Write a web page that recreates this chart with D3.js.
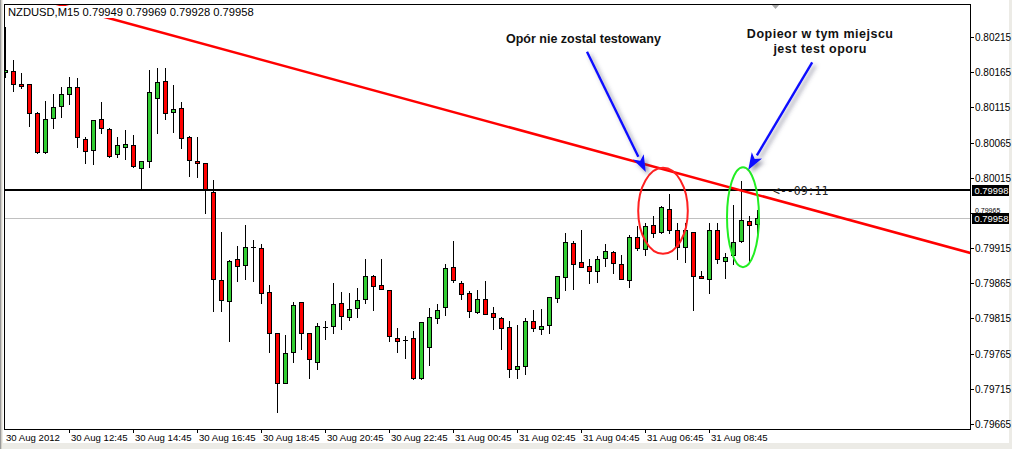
<!DOCTYPE html>
<html><head><meta charset="utf-8">
<script src="https://cdn.jsdelivr.net/npm/d3@7"></script>
<style>
html,body{margin:0;padding:0;background:#ecebe6;}
svg{display:block;}
</style></head>
<body>
<svg id="chart" width="1012" height="449"></svg>
<script>
// ---- data (NZDUSD M15) ----
const symbolTitle = "NZDUSD,M15  0.79949 0.79969 0.79928 0.79958";
const open = [
0.80165,0.80167,0.80148,0.80148,0.80107,0.80051,0.80100,0.80117,0.80134,0.80144,
0.80070,0.80054,0.80098,0.80084,0.80049,0.80059,0.80061,0.80029,0.80039,0.80128,
0.80152,0.80108,0.80114,0.80073,0.80039,0.80036,0.79995,0.79870,0.79840,0.79900,
0.79891,0.79917,0.79915,0.79853,0.79794,0.79723,0.79767,0.79838,0.79794,0.79753,
0.79803,0.79804,0.79837,0.79817,0.79830,0.79843,0.79875,0.79863,0.79855,0.79787,
0.79784,0.79787,0.79730,0.79774,0.79816,0.79831,0.79888,0.79865,0.79851,0.79824,
0.79843,0.79823,0.79816,0.79803,0.79743,0.79747,0.79811,0.79800,0.79806,0.79844,
0.79874,0.79922,0.79895,0.79890,0.79882,0.79901,0.79909,0.79892,0.79870,0.79931,
0.79914,0.79948,0.79938,0.79971,0.79941,0.79917,0.79938,0.79875,0.79871,0.79941,
0.79897,0.79905,0.79925,0.79953,0.79949];
const high = [
0.80229,0.80182,0.80164,0.80148,0.80108,0.80124,0.80134,0.80144,0.80158,0.80157,
0.80073,0.80097,0.80123,0.80086,0.80073,0.80083,0.80076,0.80039,0.80168,0.80171,
0.80171,0.80147,0.80123,0.80074,0.80073,0.80036,0.80012,0.79938,0.79898,0.79918,
0.79948,0.79926,0.79921,0.79863,0.79794,0.79791,0.79838,0.79838,0.79794,0.79809,
0.79811,0.79865,0.79853,0.79851,0.79858,0.79900,0.79877,0.79900,0.79855,0.79801,
0.79790,0.79797,0.79810,0.79830,0.79836,0.79892,0.79925,0.79868,0.79854,0.79855,
0.79868,0.79831,0.79817,0.79811,0.79806,0.79816,0.79827,0.79828,0.79845,0.79875,
0.79936,0.79925,0.79941,0.79900,0.79904,0.79921,0.79911,0.79905,0.79934,0.79946,
0.79951,0.79961,0.79975,0.79992,0.79951,0.79951,0.79938,0.79882,0.79951,0.79951,
0.79908,0.79976,0.80010,0.79961,0.79969];
const low = [
0.80158,0.80138,0.80142,0.80088,0.80050,0.80050,0.80086,0.80101,0.80120,0.80059,
0.80036,0.80034,0.80078,0.80044,0.80044,0.80042,0.80030,0.79999,0.80030,0.80078,
0.80098,0.80080,0.80057,0.80017,0.80016,0.79965,0.79826,0.79826,0.79783,0.79868,
0.79871,0.79868,0.79837,0.79767,0.79682,0.79723,0.79753,0.79772,0.79730,0.79743,
0.79786,0.79794,0.79800,0.79813,0.79817,0.79837,0.79827,0.79857,0.79783,0.79767,
0.79759,0.79729,0.79729,0.79749,0.79809,0.79820,0.79867,0.79843,0.79817,0.79823,
0.79821,0.79800,0.79772,0.79732,0.79730,0.79736,0.79797,0.79793,0.79794,0.79838,
0.79855,0.79857,0.79888,0.79865,0.79867,0.79890,0.79880,0.79871,0.79860,0.79912,
0.79905,0.79931,0.79936,0.79936,0.79900,0.79895,0.79827,0.79872,0.79851,0.79894,
0.79872,0.79892,0.79924,0.79895,0.79928];
const close = [
0.80168,0.80148,0.80145,0.80107,0.80051,0.80098,0.80115,0.80134,0.80144,0.80073,
0.80053,0.80097,0.80086,0.80046,0.80061,0.80063,0.80032,0.80039,0.80137,0.80151,
0.80107,0.80113,0.80071,0.80040,0.80036,0.79999,0.79871,0.79841,0.79897,0.79890,
0.79917,0.79917,0.79851,0.79794,0.79723,0.79766,0.79834,0.79794,0.79757,0.79804,
0.79803,0.79836,0.79818,0.79828,0.79841,0.79875,0.79861,0.79857,0.79790,0.79783,
0.79784,0.79730,0.79810,0.79817,0.79827,0.79887,0.79870,0.79850,0.79826,0.79843,
0.79821,0.79817,0.79801,0.79743,0.79747,0.79811,0.79801,0.79804,0.79845,0.79875,
0.79924,0.79892,0.79888,0.79882,0.79900,0.79911,0.79894,0.79871,0.79931,0.79915,
0.79946,0.79936,0.79973,0.79941,0.79917,0.79941,0.79875,0.79872,0.79941,0.79900,
0.79902,0.79924,0.79955,0.79948,0.79958];

const timeTickIndex = [0,8,16,24,32,40,48,56,64,72,80,88];
const timeTickLabels = ["30 Aug 2012","30 Aug 12:45","30 Aug 14:45","30 Aug 16:45","30 Aug 18:45",
  "30 Aug 20:45","30 Aug 22:45","31 Aug 00:45","31 Aug 02:45","31 Aug 04:45","31 Aug 06:45","31 Aug 08:45"];
const priceTicks = [0.80215,0.80165,0.80115,0.80065,0.80015,0.79965,0.79915,0.79865,0.79815,0.79765,0.79715,0.79665];

const resistanceLevel = 0.79998;
const bidLevel = 0.79958;
const trendStart = [0, 0.80282];
const trendEnd = [121, 0.79907];
const countdownText = "<--09:11";

const note1 = "Opór nie zostal testowany";
const note2 = ["Dopieor w tym miejscu", "jest test oporu"];

// ---- layout ----
const svg = d3.select("#chart");
const plot = {left:4, top:4, right:970, bottom:429};
const x = d3.scaleLinear().domain([0, 120]).range([5, 965]);
const y = d3.scaleLinear().domain([0.79665, 0.80215]).range([424, 37]);

const n = open.length;
const bars = d3.range(n).map(i => ({i, o:open[i], h:high[i], l:low[i], c:close[i]}));

// page background pieces
svg.append("rect").attr("x",0).attr("y",0).attr("width",1012).attr("height",449).attr("fill","#ecebe6");
svg.append("rect").attr("x",3).attr("y",0).attr("width",1006).attr("height",443).attr("fill","#ffffff");
svg.append("line").attr("x1",0.5).attr("x2",0.5).attr("y1",0).attr("y2",449).attr("stroke","#9a9a9a");
svg.append("line").attr("x1",1.5).attr("x2",1.5).attr("y1",0).attr("y2",449).attr("stroke","#d4d0c8");

const defs = svg.append("defs");
defs.append("clipPath").attr("id","plotClip").append("rect")
  .attr("x",plot.left).attr("y",plot.top).attr("width",plot.right-plot.left).attr("height",plot.bottom-plot.top);
defs.append("clipPath").attr("id","aboveBox").append("rect")
  .attr("x",970).attr("y",0).attr("width",42).attr("height",Math.round(y(bidLevel))-5);
const sh = defs.append("filter").attr("id","shadow").attr("x","-50%").attr("y","-50%").attr("width","200%").attr("height","200%");
sh.append("feDropShadow").attr("dx",3).attr("dy",3).attr("stdDeviation",2).attr("flood-color","#404060").attr("flood-opacity",0.55);

const g = svg.append("g").attr("clip-path","url(#plotClip)");

// bid line
g.append("line").attr("x1",plot.left).attr("x2",plot.right)
  .attr("y1",Math.round(y(bidLevel))+0.5).attr("y2",Math.round(y(bidLevel))+0.5)
  .attr("stroke","#c0c0c0").attr("stroke-width",1);

// resistance line
g.append("line").attr("x1",plot.left).attr("x2",plot.right)
  .attr("y1",Math.round(y(resistanceLevel))).attr("y2",Math.round(y(resistanceLevel)))
  .attr("stroke","#000").attr("stroke-width",2);

// candles
const cg = g.append("g");
bars.forEach(b => {
  const cx = Math.round(x(b.i)) + 0.5;
  cg.append("line").attr("x1",cx).attr("x2",cx)
    .attr("y1",Math.round(y(b.h))).attr("y2",Math.round(y(b.l))+1)
    .attr("stroke","#000").attr("stroke-width",1);
  const top = Math.round(y(Math.max(b.o,b.c)));
  const bot = Math.round(y(Math.min(b.o,b.c)));
  if (bot - top < 1) {
    cg.append("line").attr("x1",cx-2.5).attr("x2",cx+2.5).attr("y1",top+0.5).attr("y2",top+0.5)
      .attr("stroke","#000").attr("stroke-width",1);
  } else {
    cg.append("rect").attr("x",cx-2).attr("y",top+0.5).attr("width",4).attr("height",bot-top)
      .attr("fill", b.c > b.o ? "#32cd32" : "#ff0000").attr("stroke","#000").attr("stroke-width",1);
  }
});

// trend line
g.append("line").attr("x1",x(trendStart[0])).attr("y1",y(trendStart[1]))
  .attr("x2",x(trendEnd[0])).attr("y2",y(trendEnd[1]))
  .attr("stroke","#ff0000").attr("stroke-width",2.6);

// countdown text
g.append("text").attr("x",773).attr("y",Math.round(y(resistanceLevel))+5)
  .attr("font-family","DejaVu Sans Mono, monospace").attr("font-size",11.5).attr("fill","#222")
  .text(countdownText);

// ellipses
g.append("ellipse").attr("cx",x(82.25)).attr("cy",y(0.79968)).attr("rx",8*3.1).attr("ry",43)
  .attr("fill","none").attr("stroke","#ff2020").attr("stroke-width",2);
g.append("ellipse").attr("cx",x(92.25)).attr("cy",y(0.79959)).attr("rx",16).attr("ry",50)
  .attr("fill","none").attr("stroke","#22ee22").attr("stroke-width",2);

// arrows
function arrow(x1,y1,x2,y2){
  const ag = svg.append("g").attr("filter","url(#shadow)");
  const ang = Math.atan2(y2-y1, x2-x1);
  const L = 17, W = 6;
  const bx = x2 - L*Math.cos(ang), by = y2 - L*Math.sin(ang);
  ag.append("line").attr("x1",x1).attr("y1",y1).attr("x2",bx).attr("y2",by)
    .attr("stroke","#1010ff").attr("stroke-width",2.4);
  const px = -Math.sin(ang)*W, py = Math.cos(ang)*W;
  ag.append("path").attr("d",`M${x2},${y2}L${bx+px},${by+py}L${bx+L*0.25*Math.cos(ang)},${by+L*0.25*Math.sin(ang)}L${bx-px},${by-py}Z`)
    .attr("fill","#1010ff");
}
arrow(x(72.75), y(0.80194), x(80.1), y(0.80023));
arrow(x(100.9), y(0.80179), x(92.9), y(0.80026));

// notes
svg.append("text").attr("x",x(72.3)).attr("y",43).attr("text-anchor","middle")
  .attr("font-family","Liberation Sans, Arial, sans-serif").attr("font-weight","bold")
  .attr("font-size",12.5).attr("fill","#111").text(note1);
note2.forEach((t,k) => {
  svg.append("text").attr("x",x(101.9)).attr("y",38 + k*15).attr("text-anchor","middle")
    .attr("font-family","Liberation Sans, Arial, sans-serif").attr("font-weight","bold")
    .attr("font-size",12.5).attr("letter-spacing",0.5).attr("fill","#111").text(t);
});

// title with background
svg.append("rect").attr("x",6).attr("y",6).attr("width",212).attr("height",12).attr("fill","#fff");
svg.append("text").attr("x",8).attr("y",16)
  .attr("font-family","Liberation Sans, Arial, sans-serif").attr("font-size",11.2).attr("fill","#000")
  .text(symbolTitle);

// shift marker
svg.append("path").attr("d","M771,4L780,4L775.5,9Z").attr("fill","#a8a8a8");

// frame
svg.append("rect").attr("x",plot.left+0.5).attr("y",plot.top+0.5)
  .attr("width",plot.right-plot.left).attr("height",plot.bottom-plot.top)
  .attr("fill","none").attr("stroke","#000").attr("stroke-width",1);

// right price axis
const pa = svg.append("g");
const bidY = Math.round(y(bidLevel));
priceTicks.forEach(p => {
  const yy = Math.round(y(p)) + 0.5;
  pa.append("line").attr("x1",plot.right+0.5).attr("x2",plot.right+4).attr("y1",yy).attr("y2",yy).attr("stroke","#000");
  const hidden = Math.abs(yy - bidY) < 9;
  const t = pa.append("text").attr("x",975).attr("y",hidden ? bidY - 5 : yy+3.5)
    .attr("font-family","Liberation Sans, Arial, sans-serif").attr("font-size",hidden ? 7 : 10).attr("fill","#000")
    .text(p.toFixed(5));
  if (hidden) t.attr("clip-path","url(#aboveBox)");
});
[resistanceLevel, bidLevel].forEach(p => {
  const yy = Math.round(y(p));
  pa.append("rect").attr("x",972).attr("y",yy-5).attr("width",37).attr("height",11).attr("fill","#000");
  pa.append("text").attr("x",974.5).attr("y",yy+4)
    .attr("font-family","Liberation Sans, Arial, sans-serif").attr("font-size",9.4).attr("fill","#fff")
    .text(p.toFixed(5));
});

// bottom time axis
const ta = svg.append("g");
timeTickIndex.forEach((idx,k) => {
  const xx = Math.round(x(idx)) + 0.5;
  if (k > 0) ta.append("line").attr("x1",xx).attr("x2",xx).attr("y1",plot.bottom).attr("y2",plot.bottom+4).attr("stroke","#000");
  ta.append("text").attr("x", k === 0 ? 6 : xx+1.5).attr("y",441)
    .attr("font-family","Liberation Sans, Arial, sans-serif").attr("font-size",9.6).attr("fill","#000")
    .text(timeTickLabels[k]);
});
</script>
</body></html>
